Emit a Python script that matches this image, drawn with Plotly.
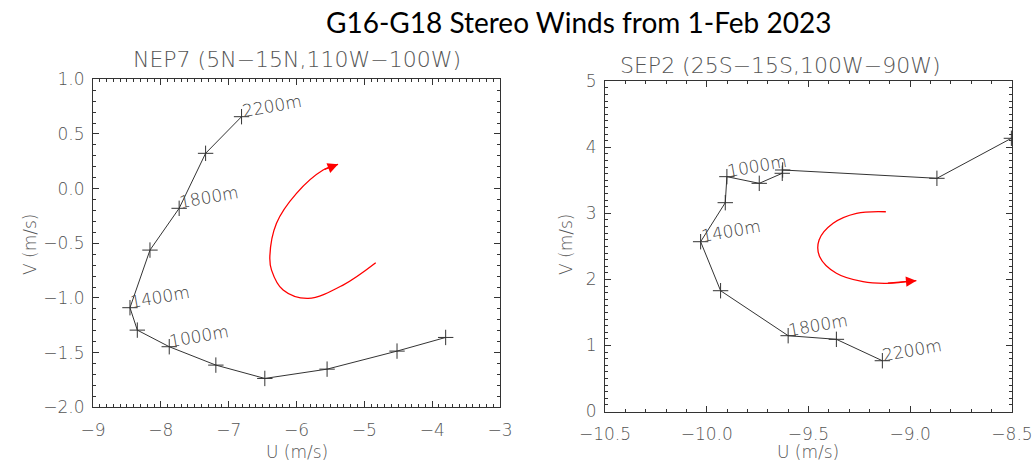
import plotly.graph_objects as go

# ---------------- data ----------------
heights = [2200, 2000, 1800, 1600, 1400, 1200, 1000, 800, 600, 400, 200, 0]

nep7_u = [-6.81, -7.34, -7.73, -8.16, -8.455, -8.347, -7.876, -7.189, -6.467, -5.549, -4.518, -3.801]
nep7_v = [0.658, 0.323, -0.18, -0.562, -1.089, -1.294, -1.446, -1.614, -1.736, -1.651, -1.486, -1.361]

sep2_u = [-9.137, -9.363, -9.600, -9.932, -10.030, -9.909, -9.901, -9.742, -9.629, -9.627, -8.869, -8.503]
sep2_v = [0.769, 1.093, 1.148, 1.829, 2.571, 3.162, 3.556, 3.455, 3.607, 3.657, 3.531, 4.137]

labelled = [2200, 1800, 1400, 1000]

# rotation-sense arrows (decorative guide curves)
nep7_arc_u = [-4.832, -5.314, -5.829, -6.197, -6.368, -6.393, -6.295, -6.0, -5.608, -5.387]
nep7_arc_v = [-0.678, -0.882, -1.004, -0.928, -0.745, -0.623, -0.317, -0.043, 0.170, 0.222]
sep2_arc_u = [-9.120, -9.264, -9.379, -9.448, -9.445, -9.363, -9.232, -9.117, -8.970]
sep2_arc_v = [3.025, 3.001, 2.850, 2.597, 2.344, 2.093, 1.965, 1.941, 1.981]

title = "G16-G18 Stereo Winds from 1-Feb 2023"
sub_left = "NEP7 (5N\u221215N,110W\u2212100W)"
sub_right = "SEP2 (25S\u221215S,100W\u221290W)"

# ---------------- figure ----------------
W, H = 1035, 464
LINE = "#333333"
TXT = "#555555"
THIN = dict(family="DejaVu Sans", size=17, color=TXT, weight=200)

fig = go.Figure()

for u, v, xa, ya in [(nep7_u, nep7_v, "x", "y"), (sep2_u, sep2_v, "x2", "y2")]:
    fig.add_trace(go.Scatter(
        x=u, y=v, xaxis=xa, yaxis=ya, mode="lines+markers",
        line=dict(color=LINE, width=1),
        marker=dict(symbol="cross-thin", size=11, line=dict(color=LINE, width=1)),
        hoverinfo="skip", showlegend=False))

for au, av, xa, ya in [(nep7_arc_u, nep7_arc_v, "x", "y"), (sep2_arc_u, sep2_arc_v, "x2", "y2")]:
    fig.add_trace(go.Scatter(
        x=au, y=av, xaxis=xa, yaxis=ya, mode="lines",
        line=dict(color="#ff0000", width=1.3, shape="spline"),
        hoverinfo="skip", showlegend=False))

annotations = []
# arrow heads
for au, av, xa, ya in [(nep7_arc_u, nep7_arc_v, "x", "y"), (sep2_arc_u, sep2_arc_v, "x2", "y2")]:
    annotations.append(dict(
        x=au[-1], y=av[-1], ax=au[-2], ay=av[-2], xref=xa, yref=ya,
        axref=xa, ayref=ya, text="", showarrow=True, arrowhead=2,
        arrowsize=1.6, arrowwidth=1.3, arrowcolor="#ff0000", standoff=0))

# height labels
for u, v, xa, ya in [(nep7_u, nep7_v, "x", "y"), (sep2_u, sep2_v, "x2", "y2")]:
    for h, uu, vv in zip(heights, u, v):
        if h in labelled:
            annotations.append(dict(
                x=uu, y=vv, xref=xa, yref=ya, text=f"{h}m", showarrow=False,
                textangle=-10, xanchor="center", yanchor="middle",
                xshift=30, yshift=11,
                font=dict(family="DejaVu Sans", size=17, color="#444444", weight=200)))

# titles
annotations.append(dict(x=578 / W, y=1 - 22 / H, xref="paper", yref="paper", text=title,
                        showarrow=False, xanchor="center", yanchor="middle",
                        font=dict(family="Lato", size=28, color="#000000")))
annotations.append(dict(x=297 / W, y=1 - 60 / H, xref="paper", yref="paper", text=sub_left,
                        showarrow=False, xanchor="center", yanchor="middle",
                        font=dict(family="DejaVu Sans", size=22, color=TXT, weight=200)))
annotations.append(dict(x=780 / W, y=1 - 65 / H, xref="paper", yref="paper", text=sub_right,
                        showarrow=False, xanchor="center", yanchor="middle",
                        font=dict(family="DejaVu Sans", size=22, color=TXT, weight=200)))
# axis titles
for xc in (297, 808):
    annotations.append(dict(x=xc / W, y=1 - 452 / H, xref="paper", yref="paper", text="U (m/s)",
                            showarrow=False, xanchor="center", yanchor="middle", font=THIN))
for xc in (30, 566):
    annotations.append(dict(x=xc / W, y=1 - 245 / H, xref="paper", yref="paper", text="V (m/s)",
                            showarrow=False, xanchor="center", yanchor="middle", textangle=-90,
                            font=THIN))


def ax(rng, dtick, minor, domain, anchor, fmt):
    return dict(
        range=rng, domain=domain, anchor=anchor, dtick=dtick, tick0=0,
        ticks="inside", ticklen=6, tickwidth=1, tickcolor=LINE,
        minor=dict(dtick=minor, ticks="inside", ticklen=3, tickwidth=1, tickcolor=LINE,
                   showgrid=False),
        showline=True, linecolor=LINE, linewidth=1, mirror="allticks",
        showgrid=False, zeroline=False, tickformat=fmt, automargin=False,
        tickfont=THIN, fixedrange=True)


fig.update_layout(
    width=W, height=H, margin=dict(l=0, r=0, t=0, b=0, pad=0, autoexpand=False),
    paper_bgcolor="white", plot_bgcolor="white",
    xaxis=ax([-9, -3], 1, 0.1, [93 / W, 500 / W], "y", "d"),
    yaxis=ax([-2.0, 1.0], 0.5, 0.1, [1 - 407.3 / H, 1 - 79.3 / H], "x", ".1f"),
    xaxis2=ax([-10.5, -8.5], 0.5, 0.1, [605 / W, 1012 / W], "y2", ".1f"),
    yaxis2=ax([0, 5], 1, 0.1, [1 - 411.5 / H, 1 - 81.3 / H], "x2", "d"),
    annotations=annotations,
)
fig.layout.xaxis.ticklabelstandoff = 7
fig.layout.xaxis2.ticklabelstandoff = 7
fig.layout.yaxis.ticklabelstandoff = 4
fig.layout.yaxis2.ticklabelstandoff = 4

fig.write_html("out.html")
